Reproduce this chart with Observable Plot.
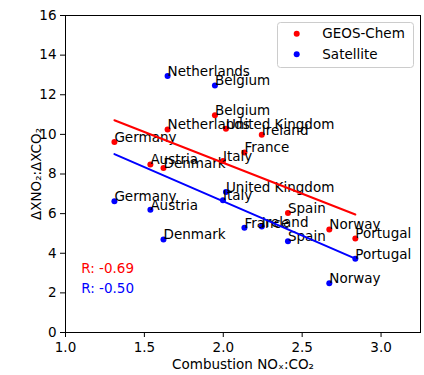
<!DOCTYPE html>
<html>
<head>
<meta charset="utf-8">
<script src="https://cdn.jsdelivr.net/npm/d3@7"></script>
<script src="https://cdn.jsdelivr.net/npm/@observablehq/plot@0.6"></script>
<style>
  html, body { margin: 0; padding: 0; background: white; }
  #chart { position: relative; width: 424px; height: 375px; }
</style>
</head>
<body>
<div id="chart"></div>
<script>
// Data
const countries = ["Germany", "Austria", "Denmark", "Netherlands", "Belgium", "Italy",
  "United Kingdom", "France", "Ireland", "Spain", "Norway", "Portugal"];
const combustionRatio = [1.31, 1.538, 1.621, 1.647, 1.947, 1.998, 2.017, 2.134, 2.244, 2.41, 2.672, 2.837];
const geosChem = [9.61, 8.48, 8.30, 10.25, 10.97, 8.65, 10.29, 9.09, 9.98, 6.03, 5.20, 4.75];
const satellite = [6.63, 6.20, 4.70, 12.95, 12.47, 6.67, 7.09, 5.29, 5.35, 4.60, 2.49, 3.72];
const seriesNames = ["GEOS-Chem", "Satellite"];
const seriesColors = ["#ff0000", "#0000ff"];
const rLabels = ["R: -0.69", "R: -0.50"];
const xTicks = [1.0, 1.5, 2.0, 2.5, 3.0];
const yTicks = [0, 2, 4, 6, 8, 10, 12, 14, 16];

const rows = [];
[geosChem, satellite].forEach((vals, s) => {
  countries.forEach((c, i) => rows.push({series: seriesNames[s], country: c, x: combustionRatio[i], y: vals[i]}));
});
const rRows = rLabels.map((t, i) => ({text: t, series: seriesNames[i]}));

const FS = 13.5;
const colorOf = d => seriesColors[seriesNames.indexOf(d.series)];

const chart = Plot.plot({
  width: 424,
  height: 375,
  marginLeft: 65,
  marginRight: 4,
  marginTop: 15,
  marginBottom: 43,
  style: {fontFamily: "DejaVu Sans", fontSize: FS + "px", color: "black", background: "white", overflow: "visible"},
  x: {domain: [1.0, 3.25]},
  y: {domain: [0, 16]},
  marks: [
    Plot.axisX({ticks: xTicks, tickFormat: d3.format(".1f"), tickSize: 5, tickPadding: 5,
      label: "Combustion NOₓ:CO₂", labelAnchor: "center", labelArrow: "none", labelOffset: 36, fontSize: FS}),
    Plot.axisY({ticks: yTicks, tickFormat: d3.format("d"), tickSize: 5, tickPadding: 4,
      label: "ΔXNO₂:ΔXCO₂", labelAnchor: "center", labelArrow: "none", labelOffset: 34, fontSize: FS}),
    Plot.dot(rows, {x: "x", y: "y", r: 3, fill: colorOf, stroke: "none"}),
    Plot.text(rows, {x: "x", y: "y", text: "country", textAnchor: "start", lineAnchor: "bottom", fill: "black", fontSize: FS}),
    Plot.linearRegressionY(rows, {x: "x", y: "y", stroke: colorOf, z: "series", ci: 0, strokeWidth: 2}),
    Plot.text(rRows, {x: () => 1.1, y: (d, i) => 3 - i, text: "text", fill: colorOf, textAnchor: "start", lineAnchor: "bottom", fontSize: FS}),
    Plot.frame({stroke: "black", strokeWidth: 1})
  ]
});
document.getElementById("chart").appendChild(chart);

// Legend box (inside upper-right of the plot frame)
const svg = d3.select(chart);
const lg = svg.append("g").attr("transform", "translate(277.5,22.5)").attr("text-anchor", "start");
lg.append("rect").attr("width", 136).attr("height", 45).attr("rx", 3)
  .attr("fill", "white").attr("fill-opacity", 0.8).attr("stroke", "#cccccc").attr("stroke-width", 1);
seriesNames.forEach((name, i) => {
  lg.append("circle").attr("cx", 19.2).attr("cy", 11.2 + i * 20.6).attr("r", 3).attr("fill", seriesColors[i]);
  lg.append("text").attr("x", 44.8).attr("y", 11.2 + i * 20.6).attr("dy", "0.35em")
    .attr("text-anchor", "start")
    .attr("font-family", "DejaVu Sans").attr("font-size", FS).attr("fill", "black").text(name);
});
</script>
</body>
</html>
